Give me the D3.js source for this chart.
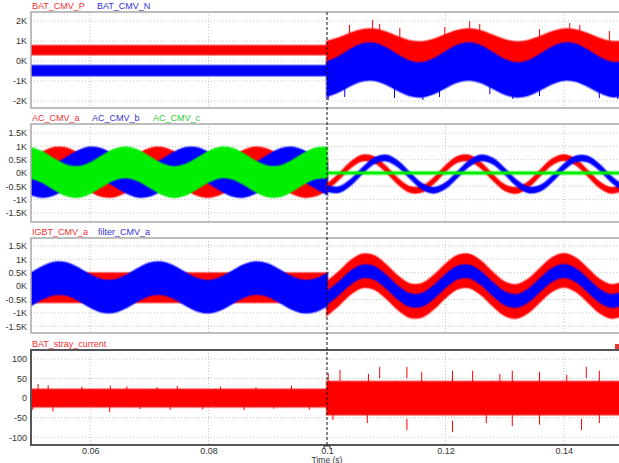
<!DOCTYPE html>
<html>
<head>
<meta charset="utf-8">
<script src="https://cdn.jsdelivr.net/npm/d3@7"></script>
<style>
body { margin: 0; background: #fff; }
svg { display: block; font-family: "Liberation Sans", Arial, sans-serif; }
</style>
</head>
<body>
<svg id="chart" width="619" height="463"></svg>
<script>
// sample times (s)
const tPre = [0.05,0.052,0.054,0.056,0.058,0.06,0.062,0.064,0.066,0.068,0.07,0.072,0.074,0.076,0.078,0.08,0.082,0.084,0.086,0.088,0.09,0.092,0.094,0.096,0.098,0.1];
const tPost = [0.1,0.102,0.104,0.106,0.108,0.11,0.112,0.114,0.116,0.118,0.12,0.122,0.124,0.126,0.128,0.13,0.132,0.134,0.136,0.138,0.14,0.142,0.144,0.146,0.148,0.15];
const tFlatPre = [0.05, 0.1];
const tFlatPost = [0.1, 0.15];

const xTicks = [0.06, 0.08, 0.1, 0.12, 0.14];
const xTickLabels = ["0.06", "0.08", "0.1", "0.12", "0.14"];

// panel 1: BAT_CMV_P / BAT_CMV_N (V), envelopes low/high
const batPPreLo = [330, 330], batPPreHi = [760, 760];
const batNPreLo = [-730, -730], batNPreHi = [-240, -240];
const batPPostLo = [-354,-88,279,550,578,348,-16,-317,-393,-202,151,478,600,453,115,-231,-398,-296,20,379,587,533,244,-122,-368,-362];
const batPPostHi = [980,1152,1391,1567,1585,1436,1200,1004,955,1078,1308,1520,1600,1504,1284,1060,952,1018,1223,1456,1592,1556,1369,1131,971,975];
const batNPostLo = [-1761,-1535,-1223,-993,-969,-1164,-1474,-1729,-1794,-1632,-1332,-1054,-950,-1075,-1363,-1656,-1798,-1712,-1443,-1138,-961,-1007,-1253,-1564,-1773,-1767];
const batNPostHi = [-54,212,579,850,878,648,284,-17,-93,98,451,778,900,753,415,69,-98,4,320,679,887,833,544,178,-68,-62];
const batPSpikeT = [0.1038,0.1077,0.1089,0.1123,0.1199,0.1241,0.1258,0.1359,0.141,0.1427,0.1477];
const batPSpikeV = [1800,2050,1850,1650,1700,2000,1850,1600,1900,1800,1500];
const batNSpikeT = [0.1002,0.103,0.1114,0.1162,0.119,0.1275,0.1314,0.1359,0.146,0.1491];
const batNSpikeV = [-1950,-1800,-1850,-1950,-1800,-1650,-1900,-1750,-1850,-1900];

// panel 2: AC_CMV_a / b / c
const acAPreLo = [-622,-353,-185,-209,-412,-684,-878,-890,-713,-443,-225,-177,-326,-590,-827,-909,-792,-539,-286,-171,-255,-493,-756,-903,-854,-635];
const acAPreHi = [518,787,955,931,728,456,262,250,427,697,915,963,814,550,313,231,348,601,854,969,885,647,384,237,286,505];
const acBPreLo = [-812,-910,-809,-562,-304,-173,-240,-470,-737,-898,-866,-657,-386,-198,-194,-378,-649,-861,-900,-745,-479,-246,-172,-297,-553,-802];
const acBPreHi = [328,230,331,578,836,967,900,670,403,242,274,483,754,942,946,762,491,279,240,395,661,894,968,843,587,338];
const acCPreLo = [-187,-357,-626,-849,-905,-764,-502,-261,-170,-280,-530,-785,-909,-833,-599,-333,-179,-220,-434,-705,-887,-882,-692,-420,-213,-183];
const acCPreHi = [953,783,514,291,235,376,638,879,970,860,610,355,231,307,541,807,961,920,706,435,253,258,448,720,927,957];
const acAPostLo = [-630,-239,206,465,396,38,-416,-721,-712,-395,60,407,459,187,-262,-644,-754,-534,-99,313,480,313,-99,-533,-754,-644];
const acAPostHi = [-430,-39,406,665,596,238,-216,-521,-512,-195,260,607,659,387,-62,-444,-554,-334,101,513,680,513,101,-333,-554,-444];
const acBPostLo = [-684,-726,-452,-9,363,463,238,-192,-593,-750,-577,-169,255,466,349,-31,-471,-732,-673,-327,121,427,427,121,-327,-673];
const acBPostHi = [-484,-526,-252,191,563,663,438,8,-393,-550,-377,31,455,666,549,169,-271,-532,-473,-127,321,627,627,321,-127,-473];
const acCPostLo = [-35, -35], acCPostHi = [35, 35];

// panel 3: IGBT_CMV_a / filter_CMV_a
const igbtPreLo = [-600, -600], igbtPreHi = [480, 480];
const filtPreLo = [-727,-473,-314,-337,-529,-786,-970,-981,-813,-558,-352,-307,-447,-697,-921,-999,-888,-649,-410,-301,-380,-605,-854,-993,-947,-740];
const filtPreHi = [473,727,886,863,671,414,230,219,387,642,848,893,753,503,279,201,312,551,790,899,820,595,346,207,253,460];
const igbtPostLo = [-1079,-712,-296,-54,-119,-454,-878,-1163,-1155,-858,-433,-108,-60,-314,-734,-1092,-1195,-988,-582,-197,-40,-197,-582,-988,-1195,-1092];
const igbtPostHi = [161,528,944,1186,1121,786,362,77,85,382,807,1132,1180,926,506,148,45,252,658,1043,1200,1043,658,252,45,148];
const filtPostLo = [-673,-319,82,316,254,-69,-479,-755,-747,-460,-49,264,311,65,-340,-685,-785,-586,-193,179,330,179,-193,-585,-785,-685];
const filtPostHi = [-213,141,542,776,714,391,-19,-295,-287,0,411,724,771,525,120,-225,-325,-126,267,639,790,639,267,-125,-325,-225];

// panel 4: BAT_stray_current (A)
const strayPreLo = [-22, -22], strayPreHi = [22, 22];
const strayPostLo = [-42, -42], strayPostHi = [42, 42];
const straySpikeT = [0.0512,0.0529,0.0586,0.0634,0.0662,0.0713,0.0747,0.082,0.088,0.094,0.0503,0.0537,0.0633,0.0684,0.0735,0.079,0.086,0.091,0.097,
  0.1002,0.1022,0.107,0.1089,0.1135,0.116,0.1212,0.1246,0.1292,0.1313,0.1359,0.1405,0.1438,0.146,0.101,0.1068,0.1135,0.1212,0.1269,0.1313,0.1359,0.143,0.146];
const straySpikeV = [36,33,30,32,30,28,31,30,28,32,-30,-34,-36,-28,-30,-29,-31,-27,-30,
  64,72,62,80,80,67,70,70,62,70,67,60,80,70,-56,-64,-82,-87,-64,-72,-68,-82,-64];

// y ticks
const p1Ticks = [2000, 1000, 0, -1000, -2000], p1Labels = ["2K", "1K", "0K", "-1K", "-2K"];
const kTicks = [1500, 1000, 500, 0, -500, -1000, -1500], kLabels = ["1.5K", "1K", "0.5K", "0K", "-0.5K", "-1K", "-1.5K"];
const p4Ticks = [100, 50, 0, -50, -100], p4Labels = ["100", "50", "0", "-50", "-100"];

const RED = "#ff0000", BLUE = "#0000ff", GREEN = "#00ee00";

const svg = d3.select("#chart");
const x = d3.scaleLinear().domain([0.05, 0.15]).range([31, 623]);

const panels = [
  { top: 12, bottom: 108, domain: [-2350, 2450], ticks: p1Ticks, labels: p1Labels, border: "#a8a8a8", bw: 1.5,
    names: [["BAT_CMV_P", "#e33", 32], ["BAT_CMV_N", "#33c", 97]],
    series: [
      [tFlatPre, batPPreLo, batPPreHi, RED], [tPost, batPPostLo, batPPostHi, RED],
      [tFlatPre, batNPreLo, batNPreHi, BLUE], [tPost, batNPostLo, batNPostHi, BLUE]],
    spikes: [[batPSpikeT, batPSpikeV, RED], [batNSpikeT, batNSpikeV, BLUE]] },
  { top: 124, bottom: 222, domain: [-1842, 1842], ticks: kTicks, labels: kLabels, border: "#a8a8a8", bw: 1.5,
    names: [["AC_CMV_a", "#e33", 32], ["AC_CMV_b", "#33c", 92], ["AC_CMV_c", "#3c3", 153]],
    series: [
      [tPre, acAPreLo, acAPreHi, RED], [tPre, acBPreLo, acBPreHi, BLUE], [tPre, acCPreLo, acCPreHi, GREEN],
      [tPost, acAPostLo, acAPostHi, RED], [tPost, acBPostLo, acBPostHi, BLUE], [tFlatPost, acCPostLo, acCPostHi, GREEN]],
    spikes: [] },
  { top: 238, bottom: 333, domain: [-1750, 1790], ticks: kTicks, labels: kLabels, border: "#a8a8a8", bw: 1.5,
    names: [["IGBT_CMV_a", "#e33", 32], ["filter_CMV_a", "#33c", 98]],
    series: [
      [tFlatPre, igbtPreLo, igbtPreHi, RED], [tPost, igbtPostLo, igbtPostHi, RED],
      [tPre, filtPreLo, filtPreHi, BLUE], [tPost, filtPostLo, filtPostHi, BLUE]],
    spikes: [] },
  { top: 350, bottom: 445, domain: [-120, 123], ticks: p4Ticks, labels: p4Labels, border: "#555", bw: 2,
    names: [["BAT_stray_current", "#e33", 32]],
    series: [[tFlatPre, strayPreLo, strayPreHi, RED], [tFlatPost, strayPostLo, strayPostHi, RED]],
    spikes: [[straySpikeT, straySpikeV, RED]] }
];

panels.forEach((p, pi) => {
  const y = d3.scaleLinear().domain(p.domain).range([p.bottom, p.top]);
  const g = svg.append("g");

  g.append("clipPath").attr("id", "clip" + pi)
    .append("rect").attr("x", 31).attr("y", p.top).attr("width", 592).attr("height", p.bottom - p.top);

  // grid
  g.selectAll(".hgrid").data(p.ticks).enter().append("line")
    .attr("x1", 31).attr("x2", 623)
    .attr("y1", d => y(d)).attr("y2", d => y(d))
    .attr("stroke", "#c4c4c4").attr("stroke-dasharray", "1,2");
  g.selectAll(".vgrid").data(xTicks.filter(d => d !== 0.1)).enter().append("line")
    .attr("x1", d => x(d)).attr("x2", d => x(d))
    .attr("y1", p.top).attr("y2", p.bottom)
    .attr("stroke", "#c4c4c4").attr("stroke-dasharray", "1,2");

  const plot = g.append("g").attr("clip-path", `url(#clip${pi})`);

  p.series.forEach(([ts, lo, hi, color]) => {
    const pts = ts.map((t, i) => [t, lo[i], hi[i]]);
    const area = d3.area()
      .x(d => x(d[0])).y0(d => y(d[1])).y1(d => y(d[2]))
      .curve(ts.length > 2 ? d3.curveCatmullRom : d3.curveLinear);
    // soft fringe for the switching noise, then the solid band
    plot.append("path").datum(pts).attr("d", area).attr("fill", "none")
      .attr("stroke", color).attr("stroke-width", 3).attr("stroke-opacity", 0.4);
    plot.append("path").datum(pts).attr("d", area).attr("fill", color)
      .attr("stroke", color).attr("stroke-width", 0.6);
  });

  // tall noise spikes
  p.spikes.forEach(([ts, vs, color]) => {
    const span = p.domain[1] - p.domain[0];
    plot.selectAll(null).data(ts.map((t, i) => [t, vs[i]])).enter().append("line")
      .attr("x1", d => x(d[0])).attr("x2", d => x(d[0]))
      .attr("y1", d => y(d[1]))
      .attr("y2", d => y(d[1] - Math.sign(d[1]) * span * 0.12))
      .attr("stroke", color).attr("stroke-width", 1);
  });

  // border
  g.append("rect").attr("x", 31).attr("y", p.top).attr("width", 600).attr("height", p.bottom - p.top)
    .attr("fill", "none").attr("stroke", p.border).attr("stroke-width", p.bw);

  // y axis
  const ax = g.append("g").attr("transform", "translate(31,0)")
    .call(d3.axisLeft(y).tickValues(p.ticks).tickFormat((d, i) => p.labels[i]).tickSize(0).tickPadding(4));
  ax.select(".domain").remove();
  ax.selectAll("text").attr("font-size", 9).attr("fill", "#333").style("font-family", "Liberation Sans, Arial, sans-serif");

  // series names
  p.names.forEach(([txt, col, nx]) => {
    g.append("text").attr("x", nx).attr("y", p.top - 3).attr("font-size", 9).attr("fill", col).text(txt);
  });
});

// cut-off marker in last panel's top-right corner
svg.append("rect").attr("x", 615).attr("y", 344).attr("width", 4).attr("height", 5).attr("fill", "#e33");

// x axis
const xa = svg.append("g").attr("transform", "translate(0,445)")
  .call(d3.axisBottom(x).tickValues(xTicks).tickFormat((d, i) => xTickLabels[i]).tickSize(0).tickPadding(2.5));
xa.select(".domain").remove();
xa.selectAll("text").attr("font-size", 9).attr("fill", "#333").style("font-family", "Liberation Sans, Arial, sans-serif");

svg.append("text").attr("x", x(0.1)).attr("y", 462.5).attr("text-anchor", "middle")
  .attr("font-size", 8.5).attr("fill", "#333").text("Time (s)");

// cursor at t = 0.1
svg.append("line").attr("x1", x(0.1)).attr("x2", x(0.1)).attr("y1", 12).attr("y2", 445)
  .attr("stroke", "#111").attr("stroke-width", 1).attr("stroke-dasharray", "3,2");
svg.append("path")
  .attr("d", `M${x(0.1) - 3},449 V446 H${x(0.1) + 3} V449`)
  .attr("fill", "none").attr("stroke", "#333").attr("stroke-width", 1);
</script>
</body>
</html>
